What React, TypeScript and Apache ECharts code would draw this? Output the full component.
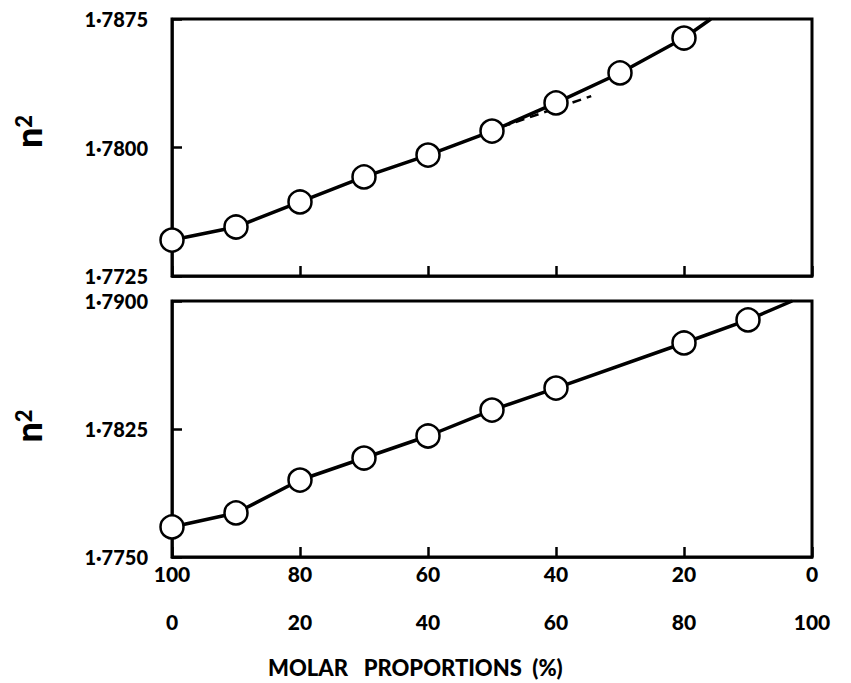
import React, { useEffect, useRef } from "react";
import * as echarts from "echarts";

// x = molar proportion of second component (%), bottom label row; top row = 100 - x
const topX = [0, 10, 20, 30, 40, 50, 60, 70, 80];
const topY = [1.7746, 1.77536, 1.77682, 1.77828, 1.77956, 1.78096, 1.7826, 1.78435, 1.78639];
const topLineEnd = [84.2, 1.7875];
const topDashX = [51.5, 65.5];
const topDashY = [1.7812, 1.783];

const botX = [0, 10, 20, 30, 40, 50, 60, 80, 90];
const botY = [1.77676, 1.77758, 1.77951, 1.7808, 1.78209, 1.78361, 1.7849, 1.78754, 1.78889];
const botLineEnd = [96.9, 1.79];

const topYRange = [1.7725, 1.7875];
const botYRange = [1.775, 1.79];
const yStep = 0.0075;
const xRange = [0, 100];
const xStep = 20;

const FONT = "Lato, 'DejaVu Sans', sans-serif";

const fmtY = (v: number) => v.toFixed(4).replace(".", "·");

export default function App() {
  const ref = useRef<HTMLDivElement>(null);
  useEffect(() => {
    if (!ref.current) return;
    const chart = echarts.init(ref.current, undefined, { renderer: "svg" });
    const black = "#000";
    const tick = { show: true, inside: true, length: 10, lineStyle: { color: black, width: 2.5 } };
    const axisLine = { show: true, lineStyle: { color: black, width: 2.5 } };
    const yLabel = {
      formatter: fmtY,
      fontFamily: FONT,
      fontWeight: 900 as const,
      fontSize: 20,
      color: black,
      margin: 24,
    };
    const nameStyle = (pad: number[]) => ({
      fontFamily: FONT,
      color: black,
      padding: pad,
      rich: {
        n: { fontSize: 36, fontWeight: 900, fontFamily: FONT, color: black, lineHeight: 34, verticalAlign: "bottom" },
        s: { fontSize: 22, fontWeight: 900, fontFamily: FONT, color: black, verticalAlign: "top", lineHeight: 34 },
      },
    });
    const xLabelBase = {
      fontFamily: FONT,
      fontWeight: 900 as const,
      fontSize: 21,
      color: black,
    };
    const pts = (xs: number[], ys: number[]) => xs.map((x, i) => [x, ys[i]]);
    const scatterStyle = {
      symbol: "circle",
      symbolSize: 23,
      itemStyle: { color: "#fff", borderColor: black, borderWidth: 2.5, opacity: 1 },
      z: 5,
    };
    chart.setOption({
      animation: false,
      backgroundColor: "#fff",
      title: {
        text: "MOLAR   PROPORTIONS  (%)",
        left: 263,
        top: 651,
        textStyle: { fontFamily: FONT, fontWeight: 900, fontSize: 22, color: black },
      },
      grid: [
        { left: 172, top: 19, width: 640, height: 257, show: true, borderColor: black, borderWidth: 3, backgroundColor: "transparent" },
        { left: 172, top: 301, width: 640, height: 256, show: true, borderColor: black, borderWidth: 3, backgroundColor: "transparent" },
      ],
      xAxis: [
        {
          gridIndex: 0, type: "value", min: xRange[0], max: xRange[1], interval: xStep,
          axisLine, axisTick: tick, axisLabel: { show: false }, splitLine: { show: false },
        },
        {
          gridIndex: 1, type: "value", min: xRange[0], max: xRange[1], interval: xStep,
          axisLine, axisTick: tick, splitLine: { show: false },
          axisLabel: { ...xLabelBase, margin: 6, formatter: (v: number) => String(100 - v) },
        },
        {
          gridIndex: 1, type: "value", min: xRange[0], max: xRange[1], interval: xStep, position: "bottom", offset: 48,
          axisLine: { show: false }, axisTick: { show: false }, splitLine: { show: false },
          axisLabel: { ...xLabelBase, margin: 6, formatter: (v: number) => String(v) },
        },
      ],
      yAxis: [
        {
          gridIndex: 0, type: "value", min: topYRange[0], max: topYRange[1], interval: yStep,
          axisLine, axisTick: tick, axisLabel: yLabel, splitLine: { show: false },
          name: "{n|n}{s|2}", nameLocation: "middle", nameGap: 126, nameRotate: 90,
          nameTextStyle: nameStyle([0, 0, 0, 32]),
        },
        {
          gridIndex: 1, type: "value", min: botYRange[0], max: botYRange[1], interval: yStep,
          axisLine, axisTick: tick, axisLabel: yLabel, splitLine: { show: false },
          name: "{n|n}{s|2}", nameLocation: "middle", nameGap: 126, nameRotate: 90,
          nameTextStyle: nameStyle([0, 0, 0, 6]),
        },
      ],
      series: [
        {
          type: "line", xAxisIndex: 0, yAxisIndex: 0, symbol: "none",
          data: [...pts(topX, topY), topLineEnd],
          lineStyle: { color: black, width: 3.5 }, z: 3,
        },
        {
          type: "line", xAxisIndex: 0, yAxisIndex: 0, symbol: "none",
          data: pts(topDashX, topDashY),
          lineStyle: { color: black, width: 2.5, type: [9, 6] }, z: 3,
        },
        { type: "scatter", xAxisIndex: 0, yAxisIndex: 0, data: pts(topX, topY), ...scatterStyle },
        {
          type: "line", xAxisIndex: 1, yAxisIndex: 1, symbol: "none",
          data: [...pts(botX, botY), botLineEnd],
          lineStyle: { color: black, width: 3.5 }, z: 3,
        },
        { type: "scatter", xAxisIndex: 1, yAxisIndex: 1, data: pts(botX, botY), ...scatterStyle },
      ],
    });
    return () => chart.dispose();
  }, []);
  return (
    <div
      ref={ref}
      style={{ position: "fixed", left: 0, top: 0, width: 851, height: 683, background: "#fff" }}
    />
  );
}
